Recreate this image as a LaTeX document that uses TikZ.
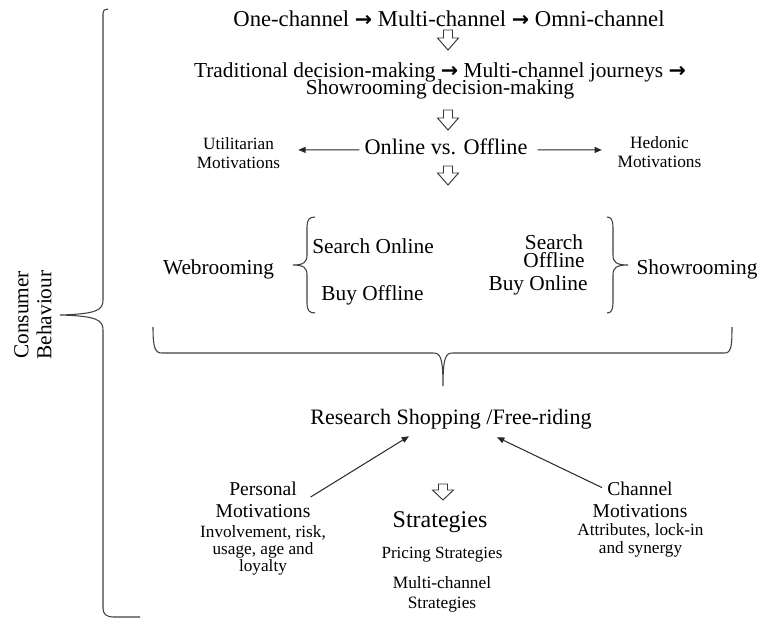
\documentclass[tikz,border=0pt]{standalone}
\usepackage{fontspec}
\setmainfont{Liberation Serif}
\newfontfamily\arrowfont{DejaVu Sans}
\usetikzlibrary{arrows.meta,calc}
\newcommand\stk[2]{\vtop{\baselineskip=#1\relax\lineskiplimit=-\maxdimen\halign{\hfil##\hfil\cr#2\crcr}}}
\newcommand\rar{{\arrowfont\bfseries\fontsize{15.5}{15.5}\selectfont →}}
\newcommand\hdown[6]{\draw[hol] ({#1-#6},#2) -- ({#1+#6},#2) -- ({#1+#6},{#2+#3}) -- ({#1+#5},{#2+#3}) -- (#1,#4) -- ({#1-#5},{#2+#3}) -- ({#1-#6},{#2+#3}) -- cycle;}
\tikzset{
  txt/.style={inner sep=0pt, anchor=base},
  f16/.style={font=\fontsize{16}{19}\selectfont},
  arr/.style={-{Triangle[length=5.5pt,width=4.5pt]}, line width=0.75pt, draw=black!85},
  brc/.style={line width=0.8pt, draw=black!75},
  hol/.style={line width=0.7pt, draw=black!80, line join=miter}
}
\begin{document}
\begin{tikzpicture}[x=0.75pt,y=-0.75pt]
\fill[white] (0,0) rectangle (761,625);
\useasboundingbox (0,0) rectangle (761,625);

% big left brace and its label
\draw[brc] (108,9) .. controls (105,9) and (103,10) .. (103,14) -- (103,300)
  .. controls (103,310) and (97,314) .. (60,315)
  .. controls (97,316) and (103,320) .. (103,330) -- (103,608)
  .. controls (103,614) and (106,617) .. (114,617) -- (140,617);
\node[rotate=90, anchor=center, inner sep=0pt, f16] (cb) at (33,315) {\stk{17.25pt}{Consumer\cr Behaviour}};

% top part
\node[txt,font=\fontsize{17}{20}\selectfont] (l1) at (449,26) {One-channel \rar{} Multi-channel \rar{} Omni-channel};
\hdown{448}{30}{8}{50}{10.5}{4.5}
\node[txt,f16] (l2) at (440,77) {\stk{13.2pt}{Traditional decision-making \rar{} Multi-channel journeys \rar\cr Showrooming decision-making}};
\hdown{448}{110}{8}{130}{10.5}{4.5}
\node[txt,font=\fontsize{16.7}{20}\selectfont] (ovo) at (446,154) {Online vs. Offline};
\node[txt,font=\fontsize{12.9}{15}\selectfont] (util) at (238.5,149) {\stk{14.25pt}{Utilitarian\cr Motivations}};
\node[txt,font=\fontsize{13}{15}\selectfont] (hed) at (659.5,148) {\stk{14.25pt}{Hedonic\cr Motivations}};
\draw[arr] ([shift={(-5,3.5)}]ovo.west) -- ([shift={(18,-2.7)}]util.east);
\draw[arr] ([shift={(10,3.5)}]ovo.east) -- ([shift={(-15.5,-1.6)}]hed.west);
\hdown{448}{166}{7}{185}{10.5}{4.5}

% webrooming / showrooming
\node[txt,f16] (web) at (218.5,274) {Webrooming};
\node[txt,f16] (so) at (373,253) {Search Online};
\node[txt,f16] (bo) at (372.5,300) {Buy Offline};
\node[txt,f16] (sof) at (554,249) {\stk{13.8pt}{Search\cr Offline}};
\node[txt,f16] (bon) at (538,290) {Buy Online};
\node[txt,f16] (show) at (697,274) {Showrooming};
\draw[brc] (315,217) .. controls (309,217) and (307,220) .. (307,227) -- (307,255)
  .. controls (307,262) and (304,265) .. (293,265)
  .. controls (304,265) and (307,268) .. (307,275) -- (307,303)
  .. controls (307,310) and (309,313) .. (315,313);
\draw[brc] (607,217) .. controls (611,217) and (613,220) .. (613,227) -- (613,255)
  .. controls (613,262) and (616,265) .. (628,265)
  .. controls (616,265) and (613,268) .. (613,275) -- (613,303)
  .. controls (613,310) and (611,313) .. (607,313);
\draw[brc] (153,327) .. controls (153,348) and (155,353) .. (162,353) -- (433,353)
  .. controls (440,353) and (443,356) .. (443,386)
  .. controls (443,356) and (446,353) .. (453,353) -- (724,353)
  .. controls (731,353) and (732,348) .. (732,327);

% research shopping part
\node[txt,font=\fontsize{16.5}{20}\selectfont] (rs) at (451,424) {Research Shopping /Free-riding};
\node[txt,font=\fontsize{14.7}{17}\selectfont] (pm) at (263,495) {\stk{16.5pt}{Personal\cr Motivations}};
\node[txt,font=\fontsize{12.9}{15}\selectfont] (pmd) at (263,537) {\stk{13.1pt}{Involvement, risk,\cr usage, age and\cr loyalty}};
\node[txt,font=\fontsize{14.7}{17}\selectfont] (ch) at (640,495) {\stk{16.5pt}{Channel\cr Motivations}};
\node[txt,font=\fontsize{12.9}{15}\selectfont] (chd) at (640.5,535) {\stk{13.5pt}{Attributes, lock-in\cr and synergy}};
\hdown{443}{484}{6}{500}{10.5}{4.5}
\node[txt,font=\fontsize{18}{21}\selectfont] (strat) at (440,527) {Strategies};
\node[txt,font=\fontsize{12.8}{15}\selectfont] (price) at (442,558) {Pricing Strategies};
\node[txt,font=\fontsize{13}{15}\selectfont] (mcs) at (442,588) {\stk{15pt}{Multi-channel\cr Strategies}};
\draw[arr] ([shift={(0,-2.3)}]pm.east) -- ([shift={(-42,7.2)}]rs.south);
\draw[arr] ([shift={(9.5,6.4)}]ch.north west) -- ([shift={(46,8.2)}]rs.south);
\end{tikzpicture}
\end{document}
